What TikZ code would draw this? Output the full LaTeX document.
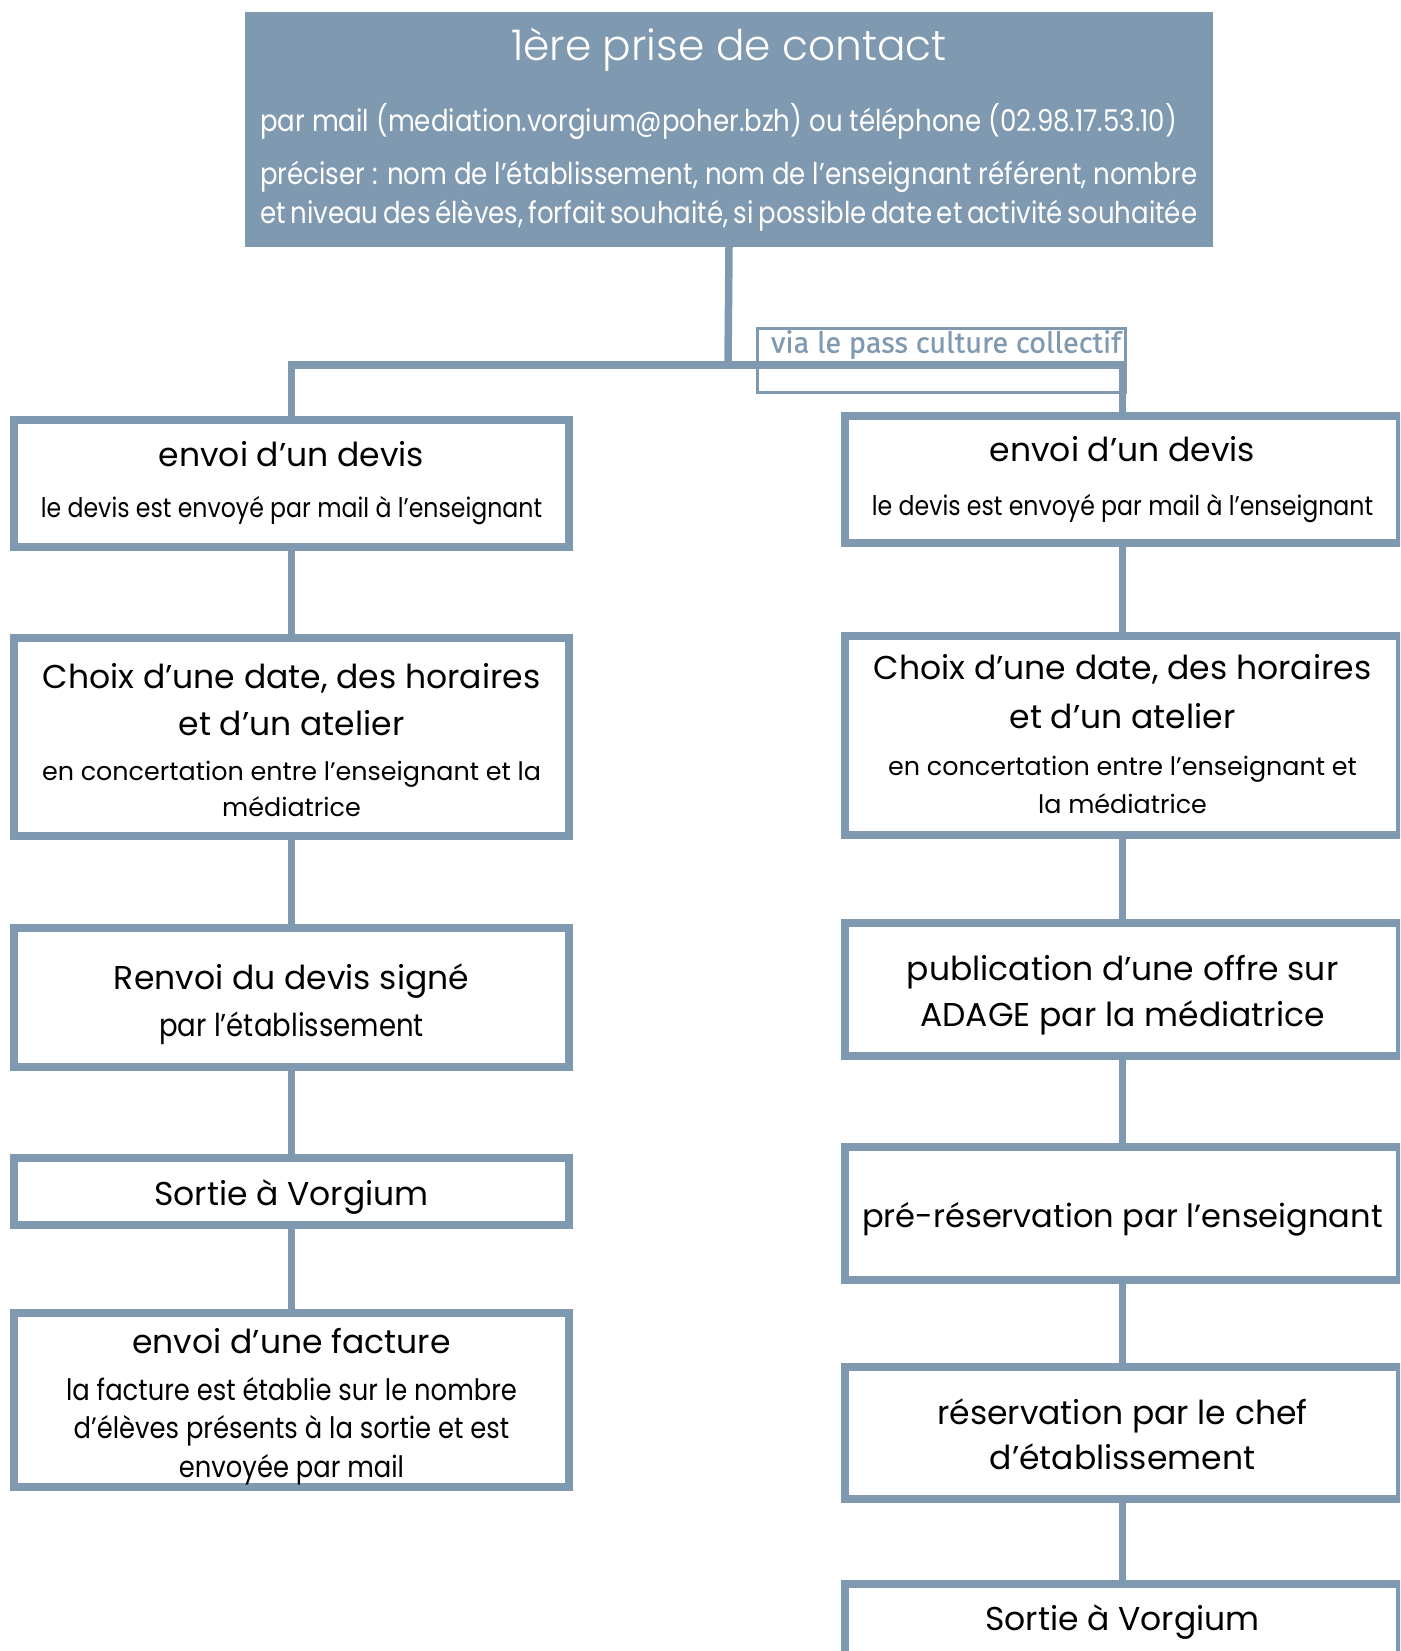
\documentclass[tikz,border=0pt]{standalone}
\usepackage{fontspec}
\setmainfont{Poppins}
\newfontfamily\condfont[FakeStretch=0.875]{Poppins}
\newfontfamily\topcond[FakeStretch=0.868]{Poppins}
\newfontfamily\lightfont{Poppins Light}
\newfontfamily\viafont[FakeBold=0.6]{Fira Sans}
\definecolor{slate}{RGB}{127,153,177}
\newcommand{\bigtxt}{\fontsize{33}{40}\selectfont}
\newcommand{\medtxt}{\fontsize{25.4}{32}\selectfont}
\newcommand{\condtxt}{\condfont\fontsize{27}{32}\selectfont}
\newcommand{\condbig}{\condfont\fontsize{29.5}{34}\selectfont}
\newcommand{\condmed}{\condfont\fontsize{31.5}{36}\selectfont}
\newcommand{\toptxt}{\topcond\fontsize{30}{36}\selectfont}
\begin{document}
\begin{tikzpicture}[x=1pt,y=-1pt,
  stepbox/.style={draw=slate, line width=7.5pt, fill=white, minimum width=555pt, inner sep=0pt, outer sep=0pt, anchor=north},
  conn/.style={draw=slate, line width=7.5pt},
  tx/.style={anchor=mid, inner sep=0pt, text=black},
  wtx/.style={anchor=mid, inner sep=0pt, text=white}]
\useasboundingbox (0,0) rectangle (1400,1651);
\clip (0,0) rectangle (1400,1651);

% top box
\node[fill=slate, minimum width=968pt, minimum height=235pt, inner sep=0pt, outer sep=0pt, anchor=north] (top) at (729,12) {};
\node[wtx, font=\lightfont\fontsize{42.3}{48}\selectfont] (toptitle) at (729,58) {1ère prise de contact};
\node[wtx, anchor=mid west, font=\toptxt] (topl1) at (260,128.5) {par mail (mediation.vorgium@poher.bzh) ou téléphone (02.98.17.53.10)};
\node[wtx, anchor=mid west, font=\toptxt] (topl2) at (260,182) {\makebox[937pt][s]{préciser : nom de l’établissement, nom de l’enseignant référent, nombre}};
\node[wtx, anchor=mid west, font=\toptxt] (topl3) at (260,221) {\makebox[937pt][s]{et niveau des élèves, forfait souhaité, si possible date et activité souhaitée}};

% left column boxes
\node[stepbox, minimum height=127pt] (L1) at (291.5,420) {};
\node[stepbox, minimum height=198pt] (L2) at (291.5,638) {};
\node[stepbox, minimum height=139pt] (L3) at (291.5,928) {};
\node[stepbox, minimum height=67pt]  (L4) at (291.5,1158) {};
\node[stepbox, minimum height=174pt] (L5) at (291.5,1313) {};

% right column boxes
\node[stepbox, minimum height=127pt] (R1) at (1122.5,416) {};
\node[stepbox, minimum height=199pt] (R2) at (1122.5,636) {};
\node[stepbox, minimum height=133pt] (R3) at (1122.5,923) {};
\node[stepbox, minimum height=133pt] (R4) at (1122.5,1147) {};
\node[stepbox, minimum height=132pt] (R5) at (1122.5,1367) {};
\node[stepbox, minimum height=133pt] (R6) at (1122.5,1584) {};

% connectors
\coordinate (j) at (728,365);
\draw[conn] (top.south) -- (j);
\draw[conn] (L1.north) -- (L1.north |- j) -- (R1.north |- j) -- (R1.north);
\draw[conn] (L1.south) -- (L2.north);
\draw[conn] (L2.south) -- (L3.north);
\draw[conn] (L3.south) -- (L4.north);
\draw[conn] (L4.south) -- (L5.north);
\draw[conn] (R1.south) -- (R2.north);
\draw[conn] (R2.south) -- (R3.north);
\draw[conn] (R3.south) -- (R4.north);
\draw[conn] (R4.south) -- (R5.north);
\draw[conn] (R5.south) -- (R6.north);

% via label
\node[draw=slate, line width=2.5pt, minimum width=368pt, minimum height=64pt, inner sep=0pt, anchor=north west] (viabox) at (756,327) {};
\node[anchor=mid, inner sep=0pt, text=slate, font=\viafont\fontsize{29}{34}\selectfont] (vialabel) at (946,350) {via le pass culture collectif};

% left texts
\node[tx, font=\bigtxt] (L1a) at (291.5,463.5) {envoi d’un devis};
\node[tx, font=\condtxt] (L1b) at (291.5,515) {le devis est envoyé par mail à l’enseignant};
\node[tx, font=\bigtxt] (L2a) at (291.5,685.5) {Choix d’une date, des horaires};
\node[tx, font=\bigtxt] (L2b) at (291.5,732.5) {et d’un atelier};
\node[tx, font=\medtxt] (L2c) at (291.5,777.5) {en concertation entre l’enseignant et la};
\node[tx, font=\medtxt] (L2d) at (291.5,813.5) {médiatrice};
\node[tx, font=\bigtxt] (L3a) at (291.5,986.5) {Renvoi du devis signé};
\node[tx, font=\condmed] (L3b) at (291.5,1033.5) {par l’établissement};
\node[tx, font=\bigtxt] (L4a) at (291.5,1202.5) {Sortie à Vorgium};
\node[tx, font=\bigtxt] (L5a) at (291.5,1350.5) {envoi d’une facture};
\node[tx, font=\condbig] (L5b) at (291.5,1397.5) {la facture est établie sur le nombre};
\node[tx, font=\condbig] (L5c) at (291.5,1435.5) {d’élèves présents à la sortie et est};
\node[tx, font=\condbig] (L5d) at (291.5,1474.5) {envoyée par mail};

% right texts
\node[tx, font=\bigtxt] (R1a) at (1122.5,458.5) {envoi d’un devis};
\node[tx, font=\condtxt] (R1b) at (1122.5,512.5) {le devis est envoyé par mail à l’enseignant};
\node[tx, font=\bigtxt] (R2a) at (1122.5,676.5) {Choix d’une date, des horaires};
\node[tx, font=\bigtxt] (R2b) at (1122.5,725.5) {et d’un atelier};
\node[tx, font=\medtxt] (R2c) at (1122.5,772.5) {en concertation entre l’enseignant et};
\node[tx, font=\medtxt] (R2d) at (1122.5,810.5) {la médiatrice};
\node[tx, font=\bigtxt] (R3a) at (1122.5,977.5) {publication d’une offre sur};
\node[tx, font=\bigtxt] (R3b) at (1122.5,1023.5) {ADAGE par la médiatrice};
\node[tx, font=\fontsize{32.1}{40}\selectfont] (R4a) at (1122.5,1224.5) {pré-réservation par l’enseignant};
\node[tx, font=\bigtxt] (R5a) at (1122.5,1421.5) {réservation par le chef};
\node[tx, font=\bigtxt] (R5b) at (1122.5,1466.5) {d’établissement};
\node[tx, font=\bigtxt] (R6a) at (1122.5,1627.5) {Sortie à Vorgium};
\end{tikzpicture}
\end{document}
